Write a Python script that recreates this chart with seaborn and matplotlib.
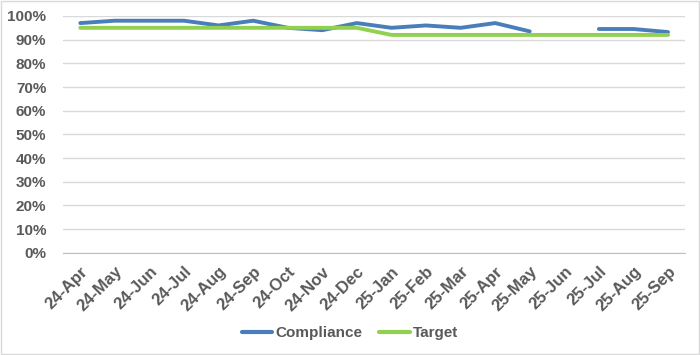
import numpy as np
import pandas as pd
import matplotlib
matplotlib.use("Agg")
import matplotlib.pyplot as plt
from matplotlib.lines import Line2D
import seaborn as sns

months = ["24-Apr", "24-May", "24-Jun", "24-Jul", "24-Aug", "24-Sep", "24-Oct", "24-Nov", "24-Dec",
          "25-Jan", "25-Feb", "25-Mar", "25-Apr", "25-May", "25-Jun", "25-Jul", "25-Aug", "25-Sep"]
compliance = [97, 98, 98, 98, 96, 98, 95, 94, 97,
              95, 96, 95, 97, 93.5, np.nan, 94.5, 94.5, 93.2]
target = [95, 95, 95, 95, 95, 95, 95, 95, 95,
          92, 92, 92, 92, 92, 92, 92, 92, 92]

sns.set_style("white")
plt.rcParams['font.family'] = ['Liberation Sans', 'DejaVu Sans']

# long form; a missing month splits the line into separate units so the gap stays
rows = []
for name, vals in [("Compliance", compliance), ("Target", target)]:
    seg = 0
    for i, v in enumerate(vals):
        if np.isnan(v):
            seg += 1
            continue
        rows.append({"pos": i, "value": v / 100, "series": name, "unit": f"{name}{seg}"})
df = pd.DataFrame(rows)

fig = plt.figure(figsize=(7, 3.55), dpi=100)
ax = fig.add_axes([0.09, 0.288, 0.889, 0.667])

grey = "#595959"
colors = {"Compliance": "#4A7EBB", "Target": "#92D050"}
sns.lineplot(data=df, x="pos", y="value", hue="series", units="unit", estimator=None,
             palette=colors, linewidth=2.8, ax=ax, legend=False)

pos = np.arange(len(months))
ax.set_xlim(-0.5, len(months) - 0.5)
ax.set_ylim(0, 1.0)
yt = np.arange(0, 1.01, 0.1)
ax.set_yticks(yt)
ax.set_yticklabels([f"{int(round(v*100))}%" for v in yt],
                   fontsize=11, fontweight="bold", color=grey)
ax.yaxis.grid(True, color="#D9D9D9", linewidth=1)
ax.set_axisbelow(True)

ax.set_xticks(pos)
ax.set_xticklabels(months, rotation=45, ha="right", rotation_mode="anchor",
                   fontsize=12, fontweight="bold", color=grey)
ax.set_xticks(np.arange(-0.5, len(months)), minor=True)
ax.tick_params(axis="x", which="major", length=0, pad=8)
ax.tick_params(axis="x", which="minor", length=5, color="#BFBFBF")
ax.tick_params(axis="y", length=0, pad=12)
ax.set_xlabel("")
ax.set_ylabel("")

for s in ["top", "right", "left"]:
    ax.spines[s].set_visible(False)
ax.spines["bottom"].set_color("#BFBFBF")

handles = [Line2D([], [], color=colors["Compliance"], linewidth=3),
           Line2D([], [], color=colors["Target"], linewidth=3)]
fig.legend(handles, ["Compliance", "Target"], loc="center", bbox_to_anchor=(0.5, 0.062),
           ncol=2, frameon=False, handlelength=2.0, handletextpad=0.2, columnspacing=1.1,
           prop={"size": 11, "weight": "bold"}, labelcolor=grey)

fig.patches.append(plt.Rectangle((0.002, 0.003), 0.996, 0.994, transform=fig.transFigure,
                                 fill=False, edgecolor="#D9D9D9", linewidth=1))

fig.savefig("out.png", dpi=100)
